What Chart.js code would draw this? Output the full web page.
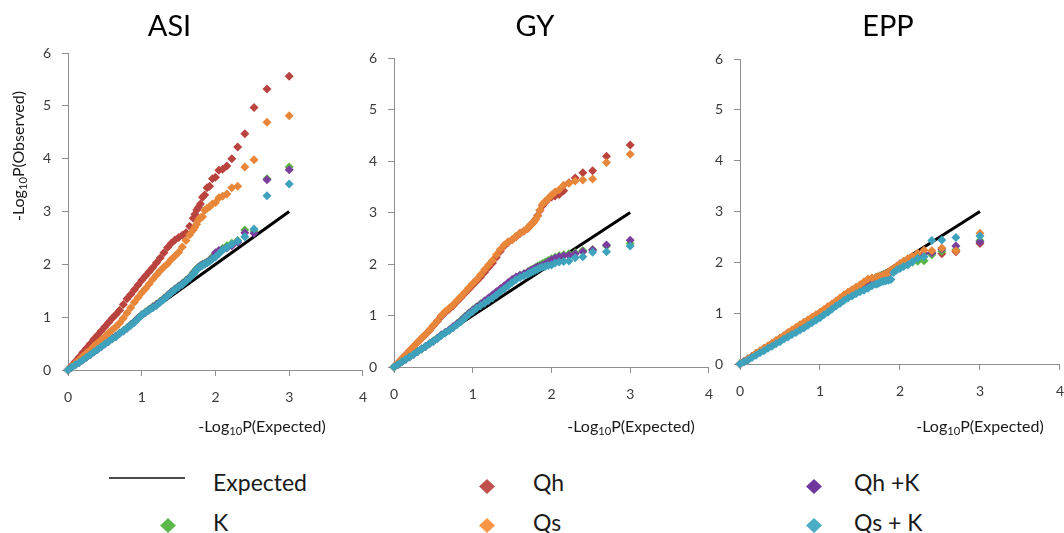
<!DOCTYPE html>
<html>
<head>
<meta charset="utf-8">
<script src="https://cdn.jsdelivr.net/npm/chart.js@4.4.1/dist/chart.umd.min.js"></script>
<style>
html,body{margin:0;padding:0;width:1064px;height:533px;overflow:hidden;background:#fff;font-family:Lato,"DejaVu Sans",sans-serif;position:relative;}
canvas{position:absolute;top:0;}
.t{position:absolute;white-space:nowrap;line-height:1;}
.ptitle{font-size:29px;color:#000;transform:translateX(-50%);top:10px;}
.xtitle{font-size:16px;color:#1a1a1a;transform:translateX(-50%);top:418px;}
.ytitle{font-size:16px;color:#1a1a1a;left:18px;top:156px;transform:translate(-50%,-50%) rotate(-90deg);}
sub{font-size:70%;position:relative;top:0.28em;vertical-align:baseline;line-height:0;}
.leg{font-size:23px;color:#1a1a1a;}
svg.mk{position:absolute;overflow:visible;}
</style>
</head>
<body>
<canvas id="cASI" width="380" height="440" style="left:0px"></canvas>
<canvas id="cGY" width="400" height="440" style="left:326px"></canvas>
<canvas id="cEPP" width="405" height="440" style="left:672px"></canvas>

<div class="t ptitle" style="left:169.5px">ASI</div>
<div class="t ptitle" style="left:535px">GY</div>
<div class="t ptitle" style="left:888px">EPP</div>

<div class="t ytitle">-Log<sub>10</sub>P(Observed)</div>
<div class="t xtitle" style="left:262px">-Log<sub>10</sub>P(Expected)</div>
<div class="t xtitle" style="left:631px">-Log<sub>10</sub>P(Expected)</div>
<div class="t xtitle" style="left:980px">-Log<sub>10</sub>P(Expected)</div>

<div id="legend"></div>

<script>
// ---------------- data ----------------
// expected quantiles (-log10 P expected), shared x positions of every series
const expX = [0,0.05,0.1,0.15,0.2,0.25,0.3,0.35,0.4,0.45,0.5,0.55,0.6,0.65,0.7,0.75,0.8,0.85,0.9,0.95,1.0,1.05,1.1,1.15,1.2,1.25,1.3,1.35,1.4,1.45,1.5,1.55,1.6,1.65,1.699,1.721,1.745,1.77,1.796,1.824,1.854,1.886,1.921,1.959,2.0,2.046,2.097,2.155,2.222,2.301,2.398,2.523,2.699,3.0];
// expected line end points
const lineX = [0, 3];
const lineY = [0, 3];
// axis ticks
const xTicks = [0, 1, 2, 3, 4];
const yTicks = [0, 1, 2, 3, 4, 5, 6];
const panelTitles = ["ASI", "GY", "EPP"];
const seriesNames = ["Qh", "K", "Qh +K", "Qs", "Qs + K"];

// ASI
const asiQh  = [0,0.08,0.16,0.24,0.33,0.41,0.49,0.58,0.66,0.74,0.82,0.90,0.98,1.05,1.13,1.24,1.35,1.43,1.52,1.61,1.70,1.78,1.86,1.94,2.03,2.12,2.22,2.32,2.40,2.46,2.51,2.55,2.60,2.72,2.87,2.95,3.03,3.08,3.14,3.27,3.31,3.45,3.48,3.62,3.65,3.78,3.80,3.86,4.00,4.22,4.47,4.97,5.32,5.56];
const asiK   = [0,0.05,0.10,0.15,0.20,0.25,0.30,0.35,0.40,0.45,0.50,0.55,0.60,0.65,0.70,0.75,0.80,0.86,0.92,0.99,1.05,1.10,1.15,1.20,1.25,1.30,1.36,1.42,1.48,1.54,1.59,1.64,1.70,1.76,1.84,1.88,1.92,1.95,1.98,2.00,2.02,2.05,2.08,2.14,2.20,2.25,2.30,2.35,2.40,2.45,2.65,2.63,3.62,3.84];
const asiQhK = [0,0.05,0.10,0.14,0.19,0.24,0.29,0.34,0.39,0.44,0.49,0.54,0.59,0.64,0.69,0.74,0.79,0.85,0.91,0.98,1.04,1.09,1.14,1.19,1.24,1.29,1.35,1.41,1.47,1.53,1.58,1.63,1.69,1.75,1.82,1.86,1.90,1.94,1.97,1.99,2.01,2.04,2.07,2.12,2.22,2.26,2.28,2.31,2.35,2.42,2.60,2.59,3.60,3.79];
const asiQs  = [0,0.06,0.13,0.19,0.26,0.32,0.38,0.45,0.51,0.57,0.63,0.70,0.76,0.82,0.89,0.98,1.08,1.18,1.28,1.37,1.46,1.54,1.63,1.72,1.80,1.88,1.95,2.01,2.09,2.16,2.23,2.33,2.45,2.56,2.65,2.70,2.76,2.84,2.88,2.90,3.02,3.06,3.09,3.14,3.17,3.26,3.29,3.33,3.45,3.48,3.84,3.98,4.69,4.81];
const asiQsK = [0,0.05,0.10,0.14,0.19,0.24,0.29,0.34,0.39,0.44,0.49,0.54,0.59,0.63,0.69,0.74,0.79,0.84,0.90,0.97,1.04,1.09,1.13,1.18,1.22,1.28,1.34,1.40,1.46,1.52,1.57,1.62,1.68,1.74,1.81,1.85,1.90,1.93,1.96,1.98,2.00,2.03,2.06,2.10,2.14,2.20,2.27,2.32,2.38,2.44,2.52,2.67,3.30,3.52];

// GY
const gyQh  = [0,0.08,0.16,0.24,0.32,0.40,0.48,0.56,0.63,0.71,0.80,0.89,0.98,1.06,1.12,1.19,1.27,1.35,1.43,1.51,1.59,1.67,1.75,1.84,1.93,2.02,2.13,2.25,2.35,2.42,2.47,2.53,2.59,2.64,2.69,2.73,2.77,2.81,2.87,2.94,3.04,3.13,3.20,3.26,3.30,3.32,3.35,3.42,3.58,3.67,3.77,3.81,4.09,4.31];
const gyK   = [0,0.05,0.10,0.15,0.20,0.25,0.30,0.35,0.40,0.45,0.51,0.56,0.62,0.67,0.72,0.78,0.84,0.91,0.98,1.05,1.11,1.17,1.23,1.28,1.33,1.39,1.45,1.51,1.57,1.63,1.69,1.74,1.78,1.81,1.85,1.87,1.89,1.91,1.93,1.96,1.98,2.01,2.04,2.07,2.10,2.13,2.16,2.18,2.20,2.22,2.26,2.28,2.35,2.40];
const gyQhK = [0,0.05,0.10,0.15,0.20,0.25,0.30,0.35,0.40,0.45,0.50,0.56,0.62,0.67,0.72,0.78,0.84,0.90,0.97,1.04,1.10,1.16,1.22,1.28,1.34,1.40,1.46,1.52,1.58,1.64,1.70,1.75,1.78,1.81,1.84,1.86,1.88,1.90,1.92,1.94,1.95,1.97,2.00,2.04,2.08,2.11,2.14,2.16,2.17,2.20,2.24,2.27,2.37,2.46];
const gyQs  = [0,0.08,0.16,0.24,0.32,0.40,0.48,0.56,0.63,0.72,0.81,0.90,1.00,1.08,1.14,1.21,1.29,1.37,1.45,1.54,1.62,1.70,1.79,1.89,1.98,2.07,2.18,2.28,2.37,2.43,2.47,2.54,2.60,2.64,2.70,2.74,2.77,2.80,2.86,2.93,3.05,3.16,3.22,3.27,3.34,3.40,3.44,3.53,3.57,3.61,3.63,3.65,3.97,4.13];
const gyQsK = [0,0.05,0.10,0.15,0.20,0.25,0.30,0.35,0.40,0.45,0.50,0.55,0.61,0.66,0.71,0.76,0.82,0.88,0.95,1.02,1.08,1.14,1.19,1.24,1.29,1.34,1.40,1.46,1.52,1.58,1.64,1.70,1.74,1.77,1.80,1.82,1.84,1.86,1.88,1.90,1.92,1.94,1.95,1.97,1.98,2.02,2.04,2.05,2.06,2.12,2.14,2.23,2.24,2.35];

// EPP
const eppQh  = [0,0.05,0.10,0.15,0.20,0.25,0.30,0.35,0.40,0.45,0.50,0.55,0.61,0.66,0.71,0.76,0.81,0.86,0.91,0.96,1.01,1.06,1.12,1.17,1.23,1.29,1.35,1.40,1.45,1.50,1.55,1.60,1.65,1.68,1.69,1.70,1.71,1.72,1.74,1.76,1.79,1.83,1.86,1.90,1.95,1.98,2.02,2.08,2.14,2.17,2.18,2.17,2.21,2.37];
const eppK   = [0,0.05,0.10,0.15,0.20,0.25,0.30,0.35,0.40,0.45,0.50,0.55,0.60,0.65,0.70,0.75,0.80,0.85,0.90,0.95,1.00,1.05,1.10,1.16,1.22,1.28,1.33,1.38,1.43,1.48,1.53,1.58,1.63,1.67,1.70,1.71,1.73,1.75,1.76,1.78,1.80,1.83,1.86,1.90,1.93,1.96,1.98,2.00,2.02,2.03,2.15,2.22,2.25,2.43];
const eppQhK = [0,0.05,0.10,0.15,0.20,0.25,0.30,0.35,0.40,0.45,0.50,0.55,0.60,0.65,0.70,0.75,0.80,0.85,0.90,0.95,1.00,1.05,1.11,1.16,1.22,1.28,1.34,1.39,1.44,1.49,1.54,1.59,1.64,1.67,1.69,1.70,1.71,1.73,1.75,1.77,1.79,1.82,1.86,1.92,1.97,2.00,2.04,2.08,2.12,2.18,2.19,2.26,2.32,2.40];
const eppQs  = [0,0.05,0.10,0.15,0.21,0.26,0.31,0.36,0.41,0.46,0.51,0.56,0.62,0.67,0.72,0.77,0.82,0.87,0.92,0.97,1.02,1.07,1.13,1.18,1.24,1.30,1.36,1.41,1.46,1.51,1.56,1.62,1.67,1.69,1.70,1.71,1.72,1.73,1.75,1.77,1.80,1.85,1.88,1.92,1.97,2.02,2.07,2.12,2.18,2.24,2.23,2.28,2.23,2.57];
const eppQsK = [0,0.04,0.08,0.13,0.17,0.22,0.26,0.31,0.35,0.40,0.44,0.49,0.53,0.58,0.62,0.67,0.71,0.76,0.81,0.86,0.91,0.97,1.02,1.08,1.14,1.19,1.25,1.30,1.34,1.38,1.42,1.45,1.49,1.54,1.57,1.58,1.60,1.62,1.63,1.64,1.65,1.66,1.80,1.85,1.88,1.92,1.95,2.01,2.08,2.11,2.43,2.44,2.49,2.52];

// ---------------- styling ----------------
const plotColors   = ["#B9433F", "#58B646", "#7A3E9D", "#E8863A", "#3FA2BC"];
const legendColors = ["#C0504D", "#5BB84A", "#7036A0", "#F79646", "#4BACC6"];
const AXIS = "#8e8e8e";
const TICK_TXT = "#3a3a3a";

Chart.defaults.font.family = "Lato, 'DejaVu Sans', sans-serif";

function pts(ys) { return expX.map((x, i) => ({ x: x, y: ys[i] })); }

function makePanel(id, seriesList, pad) {
  const datasets = [];
  datasets.push({
    label: "Expected",
    data: lineX.map((x, i) => ({ x: x, y: lineY[i] })),
    showLine: true, borderColor: "#000", borderWidth: 3, pointRadius: 0,
    clip: false
  });
  seriesList.forEach((ys, k) => {
    datasets.push({
      label: seriesNames[k],
      data: pts(ys),
      showLine: false,
      pointStyle: "rectRot",
      pointRadius: 4.5,
      pointBorderWidth: 0,
      backgroundColor: plotColors[k],
      borderColor: plotColors[k],
      clip: false
    });
  });
  // later datasets drawn on top
  datasets.forEach((d, i) => { d.order = datasets.length - i; });

  const tickCfg = (padding) => ({
    color: TICK_TXT, font: { size: 14 }, padding: padding, autoSkip: false, maxRotation: 0
  });
  const gridCfg = { display: true, drawOnChartArea: false, drawTicks: true, tickLength: 6, color: AXIS, lineWidth: 1 };

  new Chart(document.getElementById(id), {
    type: "scatter",
    data: { datasets: datasets },
    options: {
      responsive: false, animation: false, devicePixelRatio: 1, events: [],
      layout: { padding: pad },
      plugins: { legend: { display: false }, tooltip: { enabled: false }, title: { display: false } },
      scales: {
        x: {
          type: "linear", min: xTicks[0], max: xTicks[xTicks.length - 1],
          afterBuildTicks: (s) => { s.ticks = xTicks.map(v => ({ value: v })); },
          ticks: tickCfg(13), grid: gridCfg,
          border: { display: true, color: AXIS, width: 1 },
          afterFit: (s) => { s.height = 40; }
        },
        y: {
          type: "linear", min: yTicks[0], max: yTicks[yTicks.length - 1],
          afterBuildTicks: (s) => { s.ticks = yTicks.map(v => ({ value: v })); },
          ticks: tickCfg(11), grid: gridCfg,
          border: { display: true, color: AXIS, width: 1 },
          afterFit: (s) => { s.width = 68; }
        }
      }
    }
  });
}

makePanel("cASI", [asiQh, asiK, asiQhK, asiQs, asiQsK], { left: 0, right: 15, top: 53, bottom: 30 });
makePanel("cGY",  [gyQh, gyK, gyQhK, gyQs, gyQsK],      { left: 0, right: 15, top: 58, bottom: 33 });
makePanel("cEPP", [eppQh, eppK, eppQhK, eppQs, eppQsK], { left: 0, right: 15, top: 59, bottom: 36 });

// ---------------- legend (HTML) ----------------
const legendItems = [
  { name: "Expected", line: true, tx: 213, ty: 470.6, mx: 146.5, my: 478 },
  { name: seriesNames[0], c: legendColors[0], tx: 533, ty: 470.6, mx: 486.7, my: 486 },
  { name: seriesNames[2], c: legendColors[2], tx: 854, ty: 470.6, mx: 814.3, my: 486 },
  { name: seriesNames[1], c: legendColors[1], tx: 213, ty: 510.6, mx: 168.3, my: 525.5 },
  { name: seriesNames[3], c: legendColors[3], tx: 533, ty: 510.6, mx: 486.7, my: 525.5 },
  { name: seriesNames[4], c: legendColors[4], tx: 854, ty: 510.6, mx: 814.3, my: 525.5 }
];
const leg = document.getElementById("legend");
legendItems.forEach(it => {
  const t = document.createElement("div");
  t.className = "t leg";
  t.style.left = it.tx + "px";
  t.style.top = it.ty + "px";
  t.textContent = it.name;
  leg.appendChild(t);
  const svgNS = "http://www.w3.org/2000/svg";
  const svg = document.createElementNS(svgNS, "svg");
  svg.setAttribute("class", "mk");
  if (it.line) {
    svg.setAttribute("width", "76"); svg.setAttribute("height", "4");
    svg.style.left = (it.mx - 38) + "px"; svg.style.top = (it.my - 2) + "px";
    const l = document.createElementNS(svgNS, "line");
    l.setAttribute("x1", "0"); l.setAttribute("y1", "2"); l.setAttribute("x2", "76"); l.setAttribute("y2", "2");
    l.setAttribute("stroke", "#111"); l.setAttribute("stroke-width", "1.6");
    svg.appendChild(l);
  } else {
    svg.setAttribute("width", "16"); svg.setAttribute("height", "15");
    svg.style.left = (it.mx - 8) + "px"; svg.style.top = (it.my - 7.5) + "px";
    const p = document.createElementNS(svgNS, "polygon");
    p.setAttribute("points", "8,0 16,7.5 8,15 0,7.5");
    p.setAttribute("fill", it.c);
    svg.appendChild(p);
  }
  leg.appendChild(svg);
});
</script>
</body>
</html>
